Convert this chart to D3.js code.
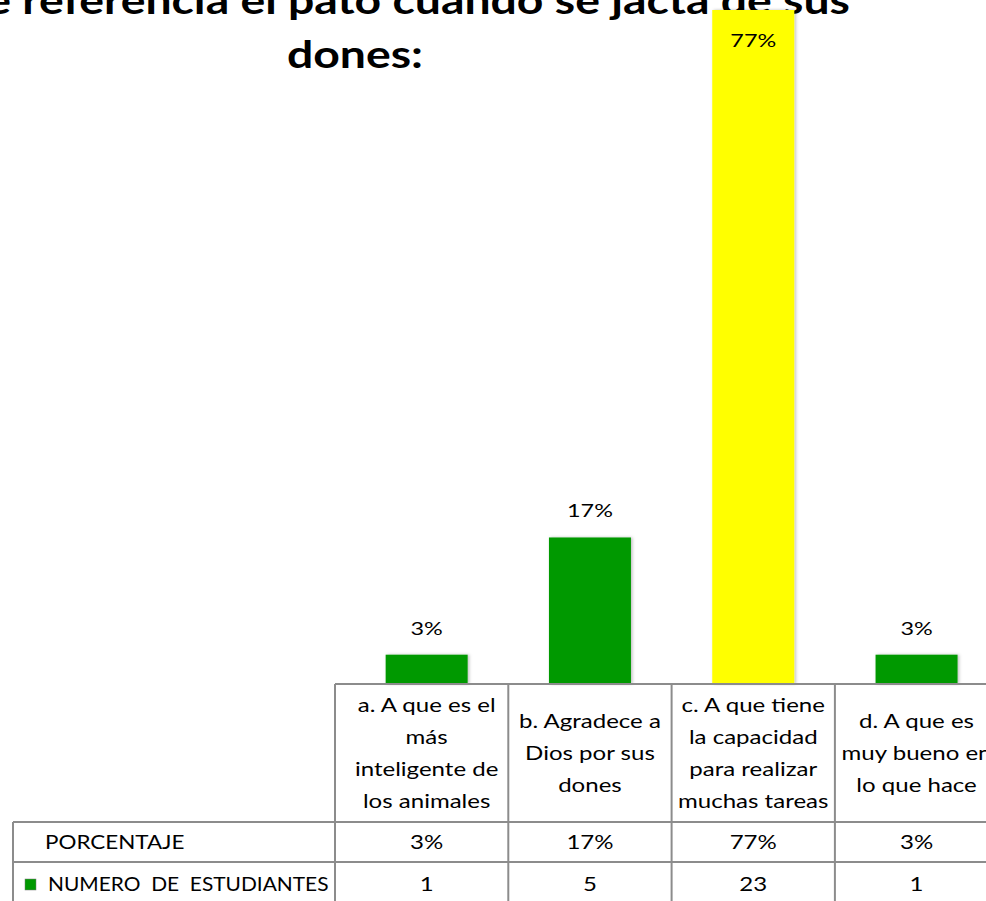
<!DOCTYPE html>
<html>
<head>
<meta charset="utf-8">
<script src="https://cdn.jsdelivr.net/npm/d3@7"></script>
<style>
  body { margin: 0; background: #fff; overflow: hidden; }
  svg { display: block; font-family: Lato, "Noto Sans", sans-serif; }
</style>
</head>
<body>
<div id="chart-area"></div>
<script>
// chart data
var categories = [
  ["a. A que es el", "más", "inteligente de", "los animales"],
  ["b. Agradece a", "Dios por sus", "dones"],
  ["c. A que tiene", "la capacidad", "para realizar", "muchas tareas"],
  ["d. A que es", "muy bueno en", "lo que hace"]
];
var students = [1, 5, 23, 1];
var percents = ["3%", "17%", "77%", "3%"];
var highlight = [false, false, true, false];
var rowLabels = ["PORCENTAJE", "NUMERO  DE  ESTUDIANTES"];
var titleLines = ["¿A qué hace referencia el pato cuando se jacta de sus", "dones:"];

var w = 986, h = 901;
var base = 684;          // bottom of the plot / top of the table
var tableLeft = 13, tableRight = 1000;
var row1 = 822, row2 = 862, row3 = 904;
var lineColor = "#8c8c8c";
var sx = 1.25;           // the original text is rendered wide

var svg = d3.select("#chart-area").append("svg")
  .attr("width", w)
  .attr("height", h);

var x = d3.scaleBand()
  .domain(d3.range(categories.length))
  .range([345, 345 + 163.3 * 4]);

var y = d3.scaleLinear()
  .domain([0, 23])
  .range([base, 10]);

var barW = 82;

// place a text at (px, py) stretched horizontally
function put(sel, px, py, k) {
  return sel.attr("transform", "translate(" + px + "," + py + ") scale(" + (k || sx) + ",1)")
    .attr("x", 0).attr("y", 0);
}

// shadow filter for the bars
var defs = svg.append("defs");
var f = defs.append("filter").attr("id", "shadow").attr("x", "-20%").attr("y", "-20%").attr("width", "140%").attr("height", "140%");
f.append("feDropShadow").attr("dx", 1.5).attr("dy", 0).attr("stdDeviation", 1.5).attr("flood-color", "#000").attr("flood-opacity", 0.25);

// title (first line runs off the top of the picture)
put(svg.append("text"), 850, 14, 1.22)
  .attr("text-anchor", "end")
  .attr("font-weight", "bold")
  .attr("font-size", 38)
  .text(titleLines[0]);
put(svg.append("text"), 355, 68, 1.22)
  .attr("text-anchor", "middle")
  .attr("font-weight", "bold")
  .attr("font-size", 38)
  .text(titleLines[1]);

// bars
svg.selectAll("rect.bar")
  .data(students)
  .enter().append("rect")
  .attr("class", "bar")
  .attr("x", function(d, i) { return x(i) + (x.bandwidth() - barW) / 2; })
  .attr("y", function(d) { return y(d); })
  .attr("width", barW)
  .attr("height", function(d) { return base - y(d); })
  .attr("fill", function(d, i) { return highlight[i] ? "#ffff00" : "#009900"; })
  .attr("filter", "url(#shadow)");

// bar labels
svg.selectAll("text.lbl")
  .data(students)
  .enter().append("text")
  .attr("class", "lbl")
  .each(function(d, i) {
    var top = y(d);
    put(d3.select(this), x(i) + x.bandwidth() / 2, top - 19 < 30 ? top + 37 : top - 20, 1.3);
  })
  .attr("text-anchor", "middle")
  .attr("font-size", 18)
  .attr("fill", "#000")
  .text(function(d, i) { return percents[i]; });

// table lines
var g = svg.append("g").attr("stroke", lineColor).attr("stroke-width", 2);
g.append("line").attr("x1", 335).attr("x2", tableRight).attr("y1", base).attr("y2", base);
g.append("line").attr("x1", tableLeft).attr("x2", tableRight).attr("y1", row1).attr("y2", row1);
g.append("line").attr("x1", tableLeft).attr("x2", tableRight).attr("y1", row2).attr("y2", row2);
g.append("line").attr("x1", tableLeft).attr("x2", tableLeft).attr("y1", row1).attr("y2", row3);
g.selectAll("line.v")
  .data(d3.range(categories.length + 1))
  .enter().append("line")
  .attr("class", "v")
  .attr("x1", function(i) { return i === 0 ? 335 : x.range()[0] + x.step() * i; })
  .attr("x2", function(i) { return i === 0 ? 335 : x.range()[0] + x.step() * i; })
  .attr("y1", base)
  .attr("y2", row3);

// category labels (header row of the table)
var lh = 32;
categories.forEach(function(lines, i) {
  var mid = (base + row1) / 2;
  var start = mid - (lines.length - 1) * lh / 2;
  var t = put(svg.append("text"), x(i) + x.bandwidth() / 2, 0, 1.3)
    .attr("text-anchor", "middle")
    .attr("font-size", 18.5)
    .attr("fill", "#000");
  t.selectAll("tspan")
    .data(lines)
    .enter().append("tspan")
    .attr("x", 0)
    .attr("y", function(d, j) { return start + j * lh + 7; })
    .text(function(d) { return d; });
});

// row 1: percentages
put(svg.append("text"), 45, (row1 + row2) / 2 + 7, 1.18)
  .attr("font-size", 19).attr("fill", "#000")
  .text(rowLabels[0]);
svg.selectAll("text.pct")
  .data(percents)
  .enter().append("text")
  .attr("class", "pct")
  .each(function(d, i) { put(d3.select(this), x(i) + x.bandwidth() / 2, (row1 + row2) / 2 + 7, 1.3); })
  .attr("text-anchor", "middle")
  .attr("font-size", 18.5).attr("fill", "#000")
  .text(function(d) { return d; });

// row 2: number of students with legend key
svg.append("rect")
  .attr("x", 25).attr("y", 879).attr("width", 11).attr("height", 11)
  .attr("fill", "#009900").attr("stroke", "#7a7a7a").attr("stroke-width", 0.5);
put(svg.append("text"), 48, (row2 + row3) / 2 + 8, 1.1)
  .attr("font-size", 19).attr("fill", "#000")
  .style("white-space", "pre")
  .text(rowLabels[1]);
svg.selectAll("text.num")
  .data(students)
  .enter().append("text")
  .attr("class", "num")
  .each(function(d, i) { put(d3.select(this), x(i) + x.bandwidth() / 2, (row2 + row3) / 2 + 8, 1.3); })
  .attr("text-anchor", "middle")
  .attr("font-size", 18.5).attr("fill", "#000")
  .text(function(d) { return d; });
</script>
</body>
</html>
